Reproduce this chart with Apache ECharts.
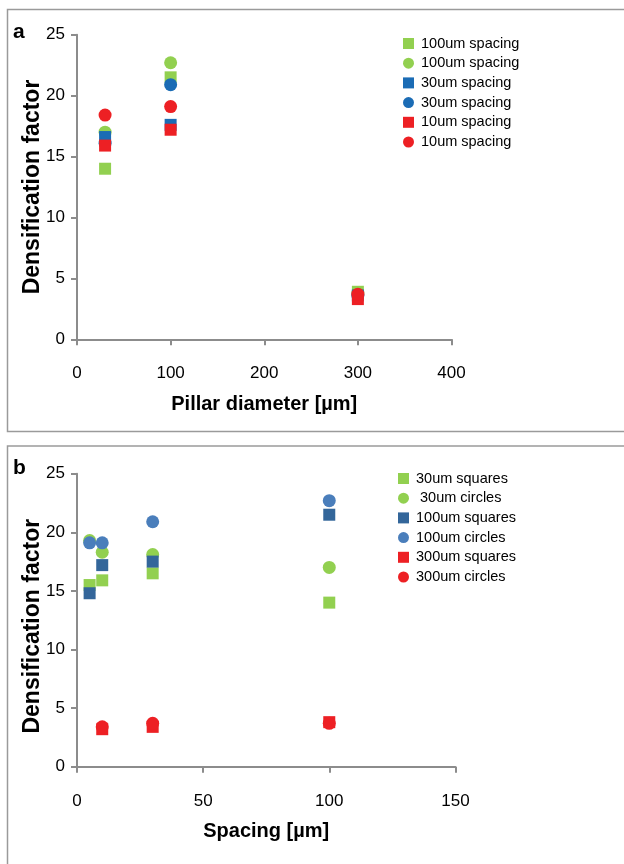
<!DOCTYPE html>
<html>
<head>
<meta charset="utf-8">
<script src="https://cdn.jsdelivr.net/npm/echarts@6/dist/echarts.min.js"></script>
<style>
  html, body { margin: 0; padding: 0; background: #fff; }
  #chart { width: 624px; height: 864px; }
</style>
</head>
<body>
<div id="chart"></div>
<script>
// panel a: densification vs pillar diameter
const diameterA = [30, 100, 300]
const labelsA = ['100um spacing', '100um spacing', '30um spacing', '30um spacing', '10um spacing', '10um spacing']
const sq100A = [14.0, 21.5, 3.9]
const ci100A = [17.0, 22.7, 3.8]
const sq30A = [16.6, 17.6, 3.6]
const ci30A = [16.1, 20.9, 3.6]
const sq10A = [15.9, 17.2, 3.3]
const ci10A = [18.4, 19.1, 3.7]

// panel b: densification vs spacing
const spacingB = [5, 10, 30, 100]
const spacingRedB = [10, 30, 100]
const labelsB = ['30um squares', ' 30um circles', '100um squares', '100um circles', '300um squares', '300um circles']
const sq30B = [15.5, 15.9, 16.5, 14.0]
const ci30B = [19.3, 18.3, 18.1, 17.0]
const sq100B = [14.8, 17.2, 17.5, 21.5]
const ci100B = [19.1, 19.1, 20.9, 22.7]
const sq300B = [3.2, 3.4, 3.8]
const ci300B = [3.4, 3.7, 3.7]

const yTicks = [0, 5, 10, 15, 20, 25]

const font = '"Liberation Sans", Arial, sans-serif'
const axisGray = '#8c8c8c'
const green = '#92d050'
const blueA = '#1b6cb5'
const red = '#ed2024'
const blueSq = '#33669a'
const blueCi = '#4a7ebb'

function pairs (xs, ys) {
  return ys.map((v, i) => [xs[i], v])
}

function scatter (id, idx, xs, ys, shape, color) {
  return {
    name: id,
    type: 'scatter',
    xAxisIndex: idx,
    yAxisIndex: idx,
    symbol: shape,
    symbolSize: shape === 'rect' ? 12 : 13,
    itemStyle: { color: color, opacity: 1 },
    data: pairs(xs, ys)
  }
}

function xAxisOf (idx, max, interval, name) {
  return {
    type: 'value',
    gridIndex: idx,
    min: 0,
    max: max,
    interval: interval,
    name: name,
    nameLocation: 'middle',
    nameGap: 55,
    nameTextStyle: { fontFamily: font, fontSize: 20, fontWeight: 'bold', color: '#000' },
    axisLine: { show: true, lineStyle: { color: axisGray, width: 2 } },
    axisTick: { show: true, length: 6, lineStyle: { color: axisGray, width: 2 } },
    axisLabel: { margin: 26, fontFamily: font, fontSize: 17, color: '#000' },
    splitLine: { show: false }
  }
}

function yAxisOf (idx, pad) {
  return {
    type: 'value',
    gridIndex: idx,
    min: yTicks[0],
    max: yTicks[yTicks.length - 1],
    interval: 5,
    name: 'Densification factor',
    nameLocation: 'middle',
    nameGap: 33,
    nameMoveOverlap: false,
    nameTextStyle: { fontFamily: font, fontSize: 23, fontWeight: 'bold', color: '#000', padding: pad },
    axisLine: { show: true, lineStyle: { color: axisGray, width: 2 } },
    axisTick: { show: true, length: 6, lineStyle: { color: axisGray, width: 2 } },
    axisLabel: { margin: 12, fontFamily: font, fontSize: 17, color: '#000' },
    splitLine: { show: false }
  }
}

function legendOf (ids, labels, shapes, left, top) {
  return {
    orient: 'vertical',
    left: left,
    top: top,
    itemWidth: 11,
    itemHeight: 11,
    itemGap: 4.7,
    selectedMode: false,
    formatter: (name) => labels[ids.indexOf(name)],
    textStyle: { fontFamily: font, fontSize: 14.5, color: '#000', padding: [0, 0, 0, 2] },
    data: ids.map((n, i) => ({ name: n, icon: shapes[i] === 'rect' ? 'rect' : 'circle' }))
  }
}

const shapes = ['rect', 'circle', 'rect', 'circle', 'rect', 'circle']
const idsA = ['a0', 'a1', 'a2', 'a3', 'a4', 'a5']
const idsB = ['b0', 'b1', 'b2', 'b3', 'b4', 'b5']

const chart = echarts.init(document.getElementById('chart'))
const options = {
  animation: false,
  backgroundColor: '#fff',
  title: [
    { text: 'a', left: 8, top: 17, textStyle: { fontFamily: font, fontSize: 21, fontWeight: 'bold', color: '#000' } },
    { text: 'b', left: 8, top: 453, textStyle: { fontFamily: font, fontSize: 21, fontWeight: 'bold', color: '#000' } }
  ],
  graphic: [
    { type: 'rect', shape: { x: 7.5, y: 9.5, width: 700, height: 422 }, style: { fill: 'none', stroke: '#9a9a9a', lineWidth: 1.5 }, z: -1 },
    { type: 'rect', shape: { x: 7.5, y: 446, width: 700, height: 500 }, style: { fill: 'none', stroke: '#9a9a9a', lineWidth: 1.5 }, z: -1 }
  ],
  legend: [
    legendOf(idsA, labelsA, shapes, 398, 31),
    legendOf(idsB, labelsB, shapes, 393, 466)
  ],
  grid: [
    { left: 77, top: 34.7, width: 374.5, height: 304.6 },
    { left: 77, top: 473.7, width: 378.4, height: 293 }
  ],
  xAxis: [
    xAxisOf(0, 400, 100, 'Pillar diameter [µm]'),
    xAxisOf(1, 150, 50, 'Spacing [µm]')
  ],
  yAxis: [yAxisOf(0, [0, 0, 0, 0]), yAxisOf(1, [0, 12, 0, 0])],
  series: [
    scatter('a0', 0, diameterA, sq100A, 'rect', green),
    scatter('a1', 0, diameterA, ci100A, 'circle', green),
    scatter('a2', 0, diameterA, sq30A, 'rect', blueA),
    scatter('a3', 0, diameterA, ci30A, 'circle', blueA),
    scatter('a4', 0, diameterA, sq10A, 'rect', red),
    scatter('a5', 0, diameterA, ci10A, 'circle', red),
    scatter('b0', 1, spacingB, sq30B, 'rect', green),
    scatter('b1', 1, spacingB, ci30B, 'circle', green),
    scatter('b2', 1, spacingB, sq100B, 'rect', blueSq),
    scatter('b3', 1, spacingB, ci100B, 'circle', blueCi),
    scatter('b4', 1, spacingRedB, sq300B, 'rect', red),
    scatter('b5', 1, spacingRedB, ci300B, 'circle', red)
  ]
}
chart.setOption(options)
</script>
</body>
</html>
